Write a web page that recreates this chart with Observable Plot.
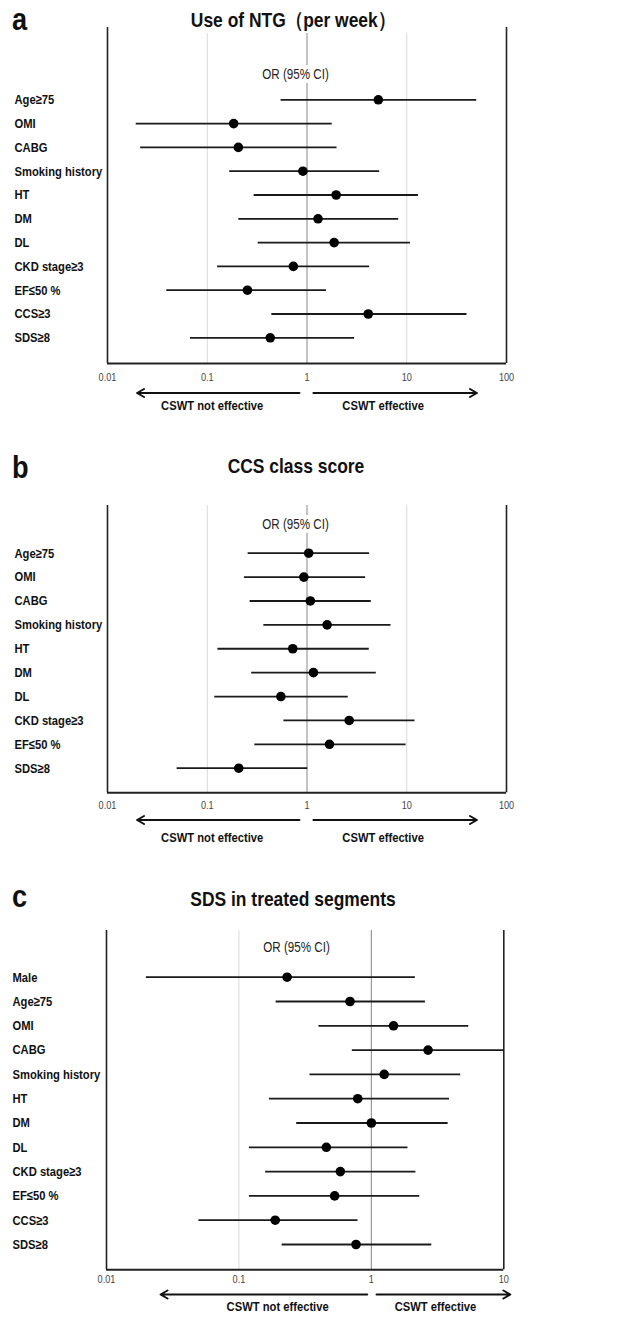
<!DOCTYPE html>
<html><head><meta charset="utf-8">
<script src="https://cdn.jsdelivr.net/npm/d3@7"></script>
<script src="https://cdn.jsdelivr.net/npm/@observablehq/plot@0.6"></script>
<style>
body{margin:0;background:#fff;}
#page{position:relative;width:641px;height:1317px;overflow:hidden;background:#fff;font-family:"Liberation Sans",Arial,sans-serif;color:#111;}
.svgwrap{position:absolute;left:0;}
.letter{position:absolute;font-weight:bold;font-size:32px;line-height:32px;white-space:nowrap;transform-origin:left center;transform:scaleX(0.85);}
.title{position:absolute;font-weight:bold;font-size:21px;line-height:21px;white-space:nowrap;transform:translateX(-50%) scaleX(0.83);}
</style></head><body><div id="page"></div>
<script>
// ---------------- data ----------------
// Panel a: Use of NTG (per week)
const labelsA = ["Age≥75","OMI","CABG","Smoking history","HT","DM","DL","CKD stage≥3","EF≤50 %","CCS≥3","SDS≥8"];
const orA = [5.19, 0.184, 0.205, 0.91, 1.96, 1.29, 1.87, 0.73, 0.253, 4.11, 0.428];
const loA = [0.55, 0.0194, 0.0215, 0.168, 0.295, 0.207, 0.324, 0.127, 0.0393, 0.444, 0.068];
const hiA = [50.3, 1.79, 2.0, 5.35, 13.1, 8.3, 10.9, 4.24, 1.57, 40.2, 3.0];

// Panel b: CCS class score
const labelsB = ["Age≥75","OMI","CABG","Smoking history","HT","DM","DL","CKD stage≥3","EF≤50 %","SDS≥8"];
const orB = [1.04, 0.93, 1.08, 1.59, 0.72, 1.16, 0.547, 2.65, 1.68, 0.207];
const loB = [0.257, 0.236, 0.269, 0.369, 0.128, 0.279, 0.119, 0.587, 0.30, 0.0499];
const hiB = [4.24, 3.87, 4.41, 6.95, 4.21, 4.95, 2.59, 12.1, 9.85, 1.02];

// Panel c: SDS in treated segments
const labelsC = ["Male","Age≥75","OMI","CABG","Smoking history","HT","DM","DL","CKD stage≥3","EF≤50 %","CCS≥3","SDS≥8"];
const orC = [0.231, 0.69, 1.47, 2.68, 1.25, 0.789, 1.0, 0.457, 0.583, 0.528, 0.188, 0.766];
const loC = [0.020, 0.191, 0.402, 0.718, 0.344, 0.170, 0.273, 0.120, 0.159, 0.120, 0.0499, 0.212];
const hiC = [2.15, 2.56, 5.44, 10, 4.73, 3.89, 3.8, 1.89, 2.17, 2.32, 0.793, 2.86];

// axes
const ticksAB = [0.01, 0.1, 1, 10, 100];
const tickLabelsAB = ["0.01", "0.1", "1", "10", "100"];
const ticksC = [0.01, 0.1, 1, 10];
const tickLabelsC = ["0.01", "0.1", "1", "10"];
const gridLight = [0.1, 10];
const refLine = [1];

// direction arrows [from, to] in OR units and their labels
const arrowsAB = [[0.84, 0.0198], [1.16, 50.5]];
const arrowsC = [[0.93, 0.0256], [1.094, 11.2]];
const effectLabels = ["CSWT not effective", "CSWT effective"];
const effectXAB = [0.112, 5.8];
const effectXC = [0.196, 3.05];

const titles = ["Use of NTG（per week）", "CCS class score", "SDS in treated segments"];
const letters = ["a", "b", "c"];
const orLabel = "OR (95% CI)";

// ---------------- drawing ----------------
const page = document.getElementById("page");
const W = 641;
const SQUEEZE = 0.83; // the reference lettering is horizontally condensed

function addText(cls, text, x, baseline, fs) {
  const d = document.createElement("div");
  d.className = cls;
  d.textContent = text;
  d.style.left = x + "px";
  d.style.top = (baseline - 0.8465 * fs) + "px";
  page.appendChild(d);
}

function panel(cfg) {
  const {labels, or, lo, hi, domain, ticks, tickLabels, arrows, effX, L} = cfg;
  const n = labels.length;
  const rows = labels.map((label, i) => ({i, label, or: or[i], lo: lo[i], hi: hi[i]}));
  const py = (pageY) => (pageY - L.rowFirst) / L.rowStep;
  const tickRows = ticks.map((v, k) => ({v, label: tickLabels[k]}));
  const arrowRows = arrows.map(([a, b]) => ({a, b}));
  const effRows = effectLabels.map((t, k) => ({t, x: effX[k]}));
  const frameMid = (L.left + L.right) / 2;
  const font = '"Liberation Sans",Arial,sans-serif';

  const svg = Plot.plot({
    width: W,
    height: L.height,
    marginTop: L.frameTop - L.top,
    marginBottom: L.top + L.height - L.frameBottom,
    marginLeft: L.left,
    marginRight: W - L.right,
    style: {fontFamily: font, background: "white", overflow: "visible"},
    x: {type: "log", domain, axis: null},
    y: {type: "linear", domain: [0, n - 1], range: [L.rowFirst - L.top, L.rowFirst - L.top + L.rowStep * (n - 1)], axis: null},
    marks: [
      Plot.ruleX(gridLight.filter(v => v > domain[0] && v < domain[1]), {y1: () => py(L.gridTop), y2: () => py(L.frameBottom), stroke: "#d9d9d9", strokeWidth: 1}),
      Plot.ruleX(refLine, {y1: () => py(L.gridTop), y2: () => py(L.frameBottom), stroke: "#9a9a9a", strokeWidth: 1.2}),
      Plot.text([orLabel], {frameAnchor: "top", dx: L.orX - frameMid, dy: L.orY - L.frameTop, fontSize: 14, fill: "#222", stroke: "white", strokeWidth: 8, text: d => d}),
      Plot.ruleX([domain[0], domain[1]], {stroke: "#222", strokeWidth: 1.6}),
      Plot.ruleY([py(L.frameBottom)], {stroke: "#222", strokeWidth: 2}),
      Plot.ruleY(rows, {y: "i", x1: "lo", x2: "hi", stroke: "#1a1a1a", strokeWidth: 1.8}),
      Plot.dot(rows, {x: "or", y: "i", r: 4.8, fill: "#000", stroke: "none"}),
      Plot.text(rows, {y: "i", text: "label", frameAnchor: "left", dx: L.labelX - L.left, textAnchor: "start", fontWeight: "bold", fontSize: 13.5, fill: "#111"}),
      Plot.text(tickRows, {x: "v", text: "label", frameAnchor: "bottom", dy: L.tickY - L.frameBottom, fontSize: 11, fill: "#444"}),
      Plot.arrow(arrowRows, {x1: "a", x2: "b", y1: () => py(L.arrowY), y2: () => py(L.arrowY), stroke: "#111", strokeWidth: 2, headLength: 6, headAngle: 60, bend: 0}),
      Plot.text(effRows, {x: "x", text: "t", frameAnchor: "bottom", dy: L.effY - L.frameBottom, fontWeight: "bold", fontSize: 13.5, fill: "#111"})
    ]
  });
  const wrap = document.createElement("div");
  wrap.className = "svgwrap";
  wrap.style.top = L.top + "px";
  wrap.appendChild(svg);
  page.appendChild(wrap);
  // condense the lettering like the reference
  svg.querySelectorAll("text").forEach(t => {
    const len = t.getComputedTextLength();
    if (len > 0) {
      t.setAttribute("textLength", (len * SQUEEZE).toFixed(2));
      t.setAttribute("lengthAdjust", "spacingAndGlyphs");
    }
  });
}

const layouts = [
  {top: 0, height: 425, frameTop: 27, frameBottom: 363, left: 107, right: 506, gridTop: 33, rowFirst: 99.3, rowStep: 23.8, orY: 69, orX: 295, tickY: 380, arrowY: 392.5, effY: 409, labelX: 14},
  {top: 440, height: 420, frameTop: 505, frameBottom: 792.3, left: 107, right: 506, gridTop: 505, rowFirst: 552.7, rowStep: 23.89, orY: 519, orX: 295, tickY: 808, arrowY: 819.5, effY: 841, labelX: 14},
  {top: 870, height: 447, frameTop: 930, frameBottom: 1269.3, left: 106, right: 503.3, gridTop: 930, rowFirst: 976.7, rowStep: 24.3, orY: 942, orX: 296, tickY: 1282, arrowY: 1294, effY: 1310, labelX: 12}
];

panel({labels: labelsA, or: orA, lo: loA, hi: hiA, domain: [0.01, 100], ticks: ticksAB, tickLabels: tickLabelsAB, arrows: arrowsAB, effX: effectXAB, L: layouts[0]});
panel({labels: labelsB, or: orB, lo: loB, hi: hiB, domain: [0.01, 100], ticks: ticksAB, tickLabels: tickLabelsAB, arrows: arrowsAB, effX: effectXAB, L: layouts[1]});
panel({labels: labelsC, or: orC, lo: loC, hi: hiC, domain: [0.01, 10], ticks: ticksC, tickLabels: tickLabelsC, arrows: arrowsC, effX: effectXC, L: layouts[2]});

// titles and panel letters (HTML, above each SVG)
const titleX = [293, 296, 293];
const titleBase = [27, 473, 906];
const letterBase = [30.5, 478, 907];
for (let k = 0; k < 3; k++) {
  addText("title", titles[k], titleX[k], titleBase[k], 21);
  addText("letter", letters[k], 12, letterBase[k], 32);
}
</script>
</body></html>
